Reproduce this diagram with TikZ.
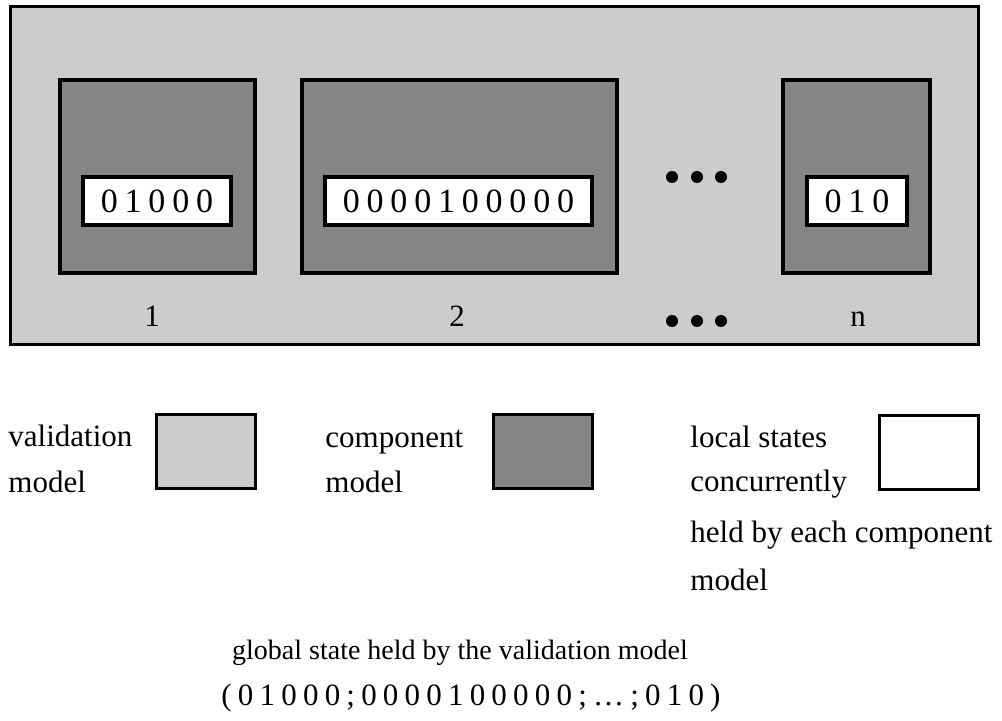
\documentclass[tikz,border=0pt]{standalone}
\usepackage{fontspec}
\setmainfont{Liberation Serif}
\newfontfamily\bitfont[LetterSpace=20]{Liberation Serif}
\definecolor{valgray}{gray}{0.8}
\definecolor{compgray}{gray}{0.52}
\tikzset{
  valbox/.style   = {shape=rectangle, draw, line width=1.5pt,
                     fill=valgray, inner sep=0pt},
  compbox/.style  = {shape=rectangle, draw, line width=2pt,
                     fill=compgray, inner sep=0pt, minimum height=96.5pt},
  statebox/.style = {shape=rectangle, draw, line width=2pt, fill=white,
                     inner sep=0pt, minimum height=24pt,
                     font=\bitfont\fontsize{17}{20}\selectfont},
  keybox/.style   = {shape=rectangle, draw, line width=1.5pt,
                     minimum width=49.5pt, minimum height=37pt},
  txt/.style      = {anchor=base west, inner sep=0pt},
  num/.style      = {anchor=base, inner sep=0pt},
  dot/.style      = {circle, fill, inner sep=0pt, minimum size=6pt}
}
\begin{document}
\begin{tikzpicture}
        [
            x                 = 0.5pt,
            y                 = -0.5pt,
            every node/.style = {font=\fontsize{15.5}{18}\selectfont}
        ]
    \useasboundingbox (0,0) rectangle (1002,721);

    \node [valbox, minimum width=484pt, minimum height=169pt] (valmodel) at (494,176) {};
    \node [compbox, minimum width=97.5pt]  (comp1) at (157.5,176.5) {};
    \node [compbox, minimum width=157.5pt] (comp2) at (459.5,176.5) {};
    \node [compbox, minimum width=73.5pt]  (compn) at (856.5,176.5) {};
    \node [statebox, minimum width=74pt]    (state1) at (157,201)   {01000};
    \node [statebox, minimum width=133.5pt] (state2) at (458.5,201) {0000100000};
    \node [statebox, minimum width=50pt]    (staten) at (857,201)   {010};
    \foreach \x in {672,697,721} {
        \node [dot] (topdot\x) at (\x,177) {};
        \node [dot] (botdot\x) at (\x,321) {};
    }
    \node [num] (num1) at (152,327) {1};
    \node [num] (num2) at (457,327) {2};
    \node [num] (numn) at (858,327) {n};

    \node [txt] (valtxt1)  at (8,447)   {validation};
    \node [txt] (valtxt2)  at (8,493)   {model};
    \node [keybox, fill=valgray] (valkey) at (205.5,451.5) {};
    \node [txt] (comptxt1) at (325,448) {component};
    \node [txt] (comptxt2) at (325,493) {model};
    \node [keybox, fill=compgray] (compkey) at (543,452) {};
    \node [txt] (loctxt1)  at (690,448) {local states};
    \node [txt] (loctxt2)  at (690,492) {concurrently};
    \node [txt] (loctxt3)  at (690,543) {held by each component};
    \node [txt] (loctxt4)  at (690,590) {model};
    \node [keybox, fill=white] (lockey) at (929,453) {};

    \node [num, font=\fontsize{14}{17}\selectfont] (globtxt) at (460,660)
        {global state held by the validation model};
    \node [num, font=\bitfont\fontsize{15.5}{18}\selectfont] (globstate) at (471,705)
        {(01000;0000100000;…;010)};

    \end{tikzpicture}
\end{document}
